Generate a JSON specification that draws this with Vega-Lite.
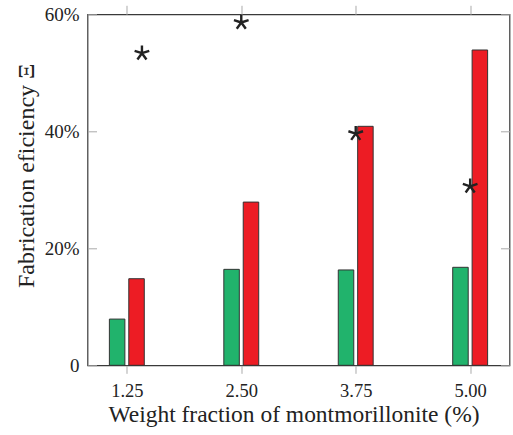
{
  "$schema": "https://vega.github.io/schema/vega-lite/v6.json",
  "width": 422,
  "height": 351,
  "autosize": "none",
  "padding": {"left": 87.5, "top": 14.3, "right": 3, "bottom": 70},
  "config": {
    "view": {"stroke": "#3a3a3a", "strokeWidth": 1.2},
    "font": "Liberation Serif",
    "axis": {"tickColor": "#aaaaaa", "tickWidth": 1, "domain": false, "grid": false, "labelColor": "#222222", "titleColor": "#222222", "titleFontWeight": "normal", "labelFont": "Liberation Serif", "titleFont": "Liberation Serif"}
  },
  "data": {
    "values": [
      {"x": 1.25, "green": 7.9, "red": 14.8, "star_x": 1.415, "star": 53.35},
      {"x": 2.5, "green": 16.4, "red": 27.9, "star_x": 2.5, "star": 58.6},
      {"x": 3.75, "green": 16.3, "red": 40.85, "star_x": 3.75, "star": 39.6},
      {"x": 5.0, "green": 16.75, "red": 53.9, "star_x": 5.0, "star": 30.6}
    ]
  },
  "resolve": {"axis": {"x": "independent", "y": "independent"}},
  "layer": [
    {
      "mark": {"type": "bar", "xOffset": -9.7, "width": 15.5, "fill": "#21b36c", "stroke": "#333333", "strokeWidth": 1},
      "encoding": {
        "x": {
          "field": "x", "type": "quantitative",
          "scale": {"domain": [0.875, 5.375], "nice": false, "zero": false},
          "axis": {
            "orient": "bottom", "values": [1.25, 2.5, 3.75, 5.0], "format": ".2f",
            "tickSize": 8, "labelFontSize": 18.5, "labelBaseline": "alphabetic", "labelPadding": 23.5,
            "title": "Weight fraction of montmorillonite (%)", "titleFontSize": 23.5,
            "titleBaseline": "alphabetic", "titleX": 206, "titleY": 56.5, "titleAnchor": "middle", "titleAlign": "center"
          }
        },
        "y": {
          "field": "green", "type": "quantitative",
          "scale": {"domain": [0, 60], "nice": false},
          "axis": {
            "orient": "left", "values": [0, 20, 40, 60], "ticks": false,
            "labelExpr": "datum.value == 0 ? '0' : datum.value + '%'",
            "labelFontSize": 19, "labelPadding": 8.5, "labelBaseline": "middle",
            "title": "Fabrication eficiency Ξ", "titleFontSize": 24, "titleAngle": -90,
            "titleBaseline": "alphabetic", "titleAlign": "center", "titleX": -54.5, "titleY": 161
          }
        }
      }
    },
    {
      "mark": {"type": "bar", "xOffset": 9.7, "width": 15.5, "fill": "#ed1c24", "stroke": "#333333", "strokeWidth": 1},
      "encoding": {
        "x": {
          "field": "x", "type": "quantitative",
          "axis": {"orient": "top", "values": [1.25, 2.5, 3.75, 5.0], "labels": false, "tickSize": 9, "title": null}
        },
        "y": {
          "field": "red", "type": "quantitative",
          "axis": {"orient": "right", "values": [0, 20, 40, 60], "labels": false, "tickSize": -9, "title": null}
        }
      }
    },
    {
      "mark": {
        "type": "point",
        "shape": "M0,0L0,-1M0,0L0.951,-0.309M0,0L0.588,0.809M0,0L-0.588,0.809M0,0L-0.951,-0.309",
        "filled": false, "stroke": "#222222", "strokeWidth": 2.4, "size": 237, "opacity": 1, "strokeCap": "butt"
      },
      "encoding": {
        "x": {"field": "star_x", "type": "quantitative", "axis": null},
        "y": {
          "field": "star", "type": "quantitative",
          "axis": {"orient": "left", "values": [0, 20, 40, 60], "labels": false, "tickSize": -9, "title": null}
        }
      }
    }
  ]
}
